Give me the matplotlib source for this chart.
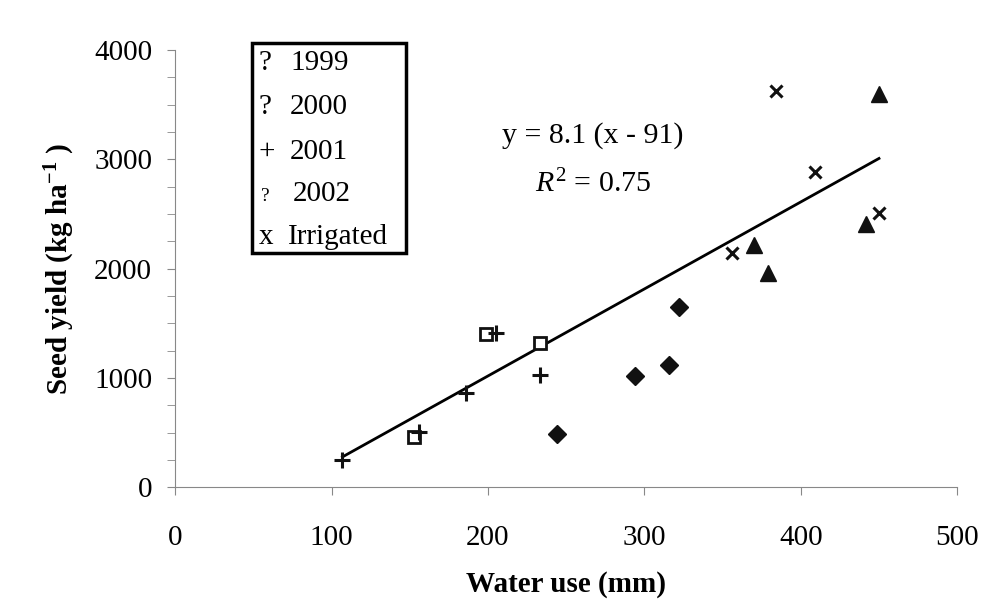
import numpy as np
import matplotlib
matplotlib.use('Agg')
import matplotlib.pyplot as plt
from matplotlib.patches import Rectangle

plt.rcParams['font.family'] = ['Liberation Serif', 'DejaVu Serif']
plt.rcParams['mathtext.fontset'] = 'custom'
plt.rcParams['mathtext.rm'] = 'Liberation Serif'
plt.rcParams['mathtext.it'] = 'Liberation Serif:italic'
plt.rcParams['mathtext.bf'] = 'Liberation Serif:bold'

# Water use (mm) and seed yield (kg/ha)
x_1999 = [244, 294, 316, 322]
y_1999 = [485, 1016, 1120, 1650]

x_2000 = [153, 199, 233]
y_2000 = [460, 1400, 1315]

x_2001 = [107, 156, 186, 205, 233]
y_2001 = [247, 506, 858, 1407, 1031]

x_2002 = [370, 379, 442, 450]
y_2002 = [2215, 1956, 2407, 3600]

x_irr = [356, 384, 409, 450]
y_irr = [2145, 3625, 2886, 2511]

# regression line as drawn
fit_x = [107, 450]
fit_y = [277, 3009]

# legend in the source lost its symbols, they show up as "?"
legend_symbols = ['?', '?', '+', '?', 'x']
legend_names = ['1999', '2000', '2001', '2002', 'Irrigated']

fig = plt.figure(figsize=(9.95, 6.12), dpi=100)
ax = fig.add_axes([0.176, 0.204, 0.786, 0.714])

ax.plot(fit_x, fit_y, color='black', lw=2)
ax.plot(x_1999, y_1999, 'D', color='#111111', ms=9, ls='none')
ax.plot(x_2000, y_2000, 's', mfc='white', mec='#111111', mew=2, ms=9, ls='none')
ax.plot(x_2001, y_2001, '+', color='#111111', mew=2.2, ms=12, ls='none')
ax.plot(x_2002, y_2002, '^', color='#111111', ms=12, ls='none')
ax.plot(x_irr, y_irr, 'x', color='#111111', mew=2.2, ms=9, ls='none')

ax.set_xlim(0, 500)
ax.set_ylim(0, 4000)
ax.set_xticks(np.arange(0, 501, 100))
ax.set_yticks(np.arange(0, 4001, 1000))
ax.set_yticks(np.arange(0, 4001, 250), minor=True)

for s in ['top', 'right']:
    ax.spines[s].set_visible(False)
for s in ['left', 'bottom']:
    ax.spines[s].set_color('#888888')
ax.tick_params(axis='both', which='both', color='#888888', direction='out', length=5.5)
ax.tick_params(axis='both', which='major', labelsize=21)
ax.tick_params(axis='x', pad=22)
ax.tick_params(axis='y', pad=11)

ax.set_xlabel('Water use (mm)', fontsize=21, fontweight='bold', labelpad=14)
ax.set_ylabel(r'Seed yield (kg ha$^{\mathbf{-1}}$ )', fontsize=21, fontweight='bold', labelpad=12)

ax.text(0.5345, 0.805, 'y = 8.1 (x - 91)', transform=ax.transAxes,
        ha='center', va='center', fontsize=21.5)
ax.text(0.5345, 0.694, r'$R^2$ = 0.75', transform=ax.transAxes,
        ha='center', va='center', fontsize=21.5)

# legend box
fig.add_artist(Rectangle((252 / 995, 1 - 253 / 612), 154 / 995, 210 / 612,
                         transform=fig.transFigure, fill=False,
                         edgecolor='black', lw=2.5))
leg_base = [70, 114, 159, 201, 244]
sym_x = [258, 258, 258, 261, 259]
sym_size = [21, 21, 21, 14, 21]
name_x = [290, 290, 290, 293, 288]
for i in range(len(legend_names)):
    yy = 1 - leg_base[i] / 612
    fig.text(sym_x[i] / 995, yy, legend_symbols[i], ha='left', va='baseline',
             fontsize=sym_size[i])
    fig.text(name_x[i] / 995, yy, legend_names[i], ha='left', va='baseline',
             fontsize=21)

fig.savefig('out.png', dpi=100)
